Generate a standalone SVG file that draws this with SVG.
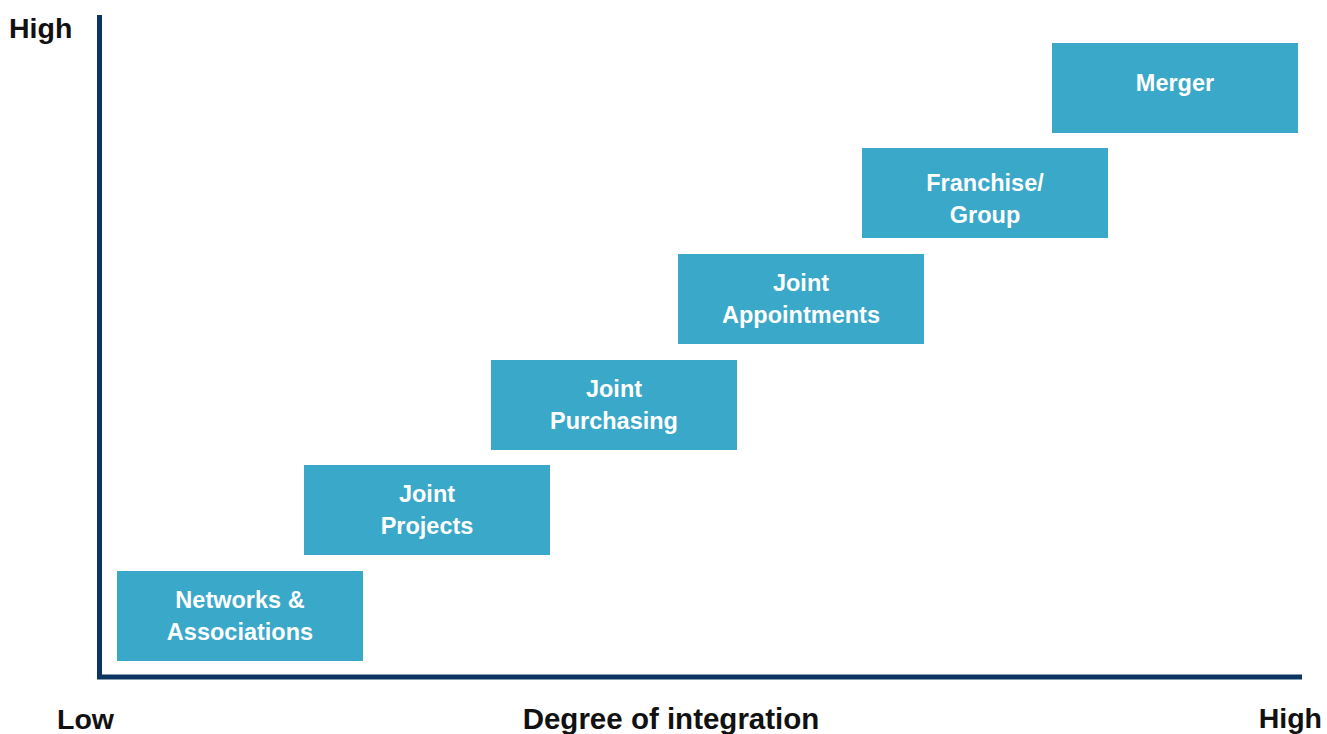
<svg xmlns="http://www.w3.org/2000/svg" width="1327" height="734" viewBox="0 0 1327 734">
<style>
.box{fill:#3AA8C9}
.bt{fill:#ffffff;font-family:"Liberation Sans",Arial,sans-serif;font-weight:bold;font-size:23.5px;text-anchor:middle}
.ax{fill:#111111;font-family:"Liberation Sans",Arial,sans-serif;font-weight:bold;font-size:28.5px}
.axis{fill:none;stroke:#0C3461;stroke-width:5}
</style>
<rect width="1327" height="734" fill="#ffffff"/>
<g id="connectors">
<polyline class="axis" points="99.5,15 99.5,677 1302,677"/>
</g>
<g id="networks"><rect class="box" x="117" y="571" width="246" height="90"/><text class="bt" x="240" y="608">Networks &amp;</text><text class="bt" x="240" y="640">Associations</text></g>
<g id="projects"><rect class="box" x="304" y="465" width="246" height="90"/><text class="bt" x="427" y="502">Joint</text><text class="bt" x="427" y="534">Projects</text></g>
<g id="purchasing"><rect class="box" x="491" y="360" width="246" height="90"/><text class="bt" x="614" y="397">Joint</text><text class="bt" x="614" y="429">Purchasing</text></g>
<g id="appointments"><rect class="box" x="678" y="254" width="246" height="90"/><text class="bt" x="801" y="291">Joint</text><text class="bt" x="801" y="323">Appointments</text></g>
<g id="franchise"><rect class="box" x="862" y="148" width="246" height="90"/><text class="bt" x="985" y="191">Franchise/</text><text class="bt" x="985" y="223">Group</text></g>
<g id="merger"><rect class="box" x="1052" y="43" width="246" height="90"/><text class="bt" x="1175" y="91">Merger</text></g>
<g id="labels">
<text class="ax" x="9" y="38">High</text>
<text class="ax" x="57" y="729">Low</text>
<text class="ax" x="671" y="729" text-anchor="middle" style="font-size:29.5px">Degree of integration</text>
<text class="ax" x="1322" y="728" text-anchor="end">High</text>
</g>
</svg>
